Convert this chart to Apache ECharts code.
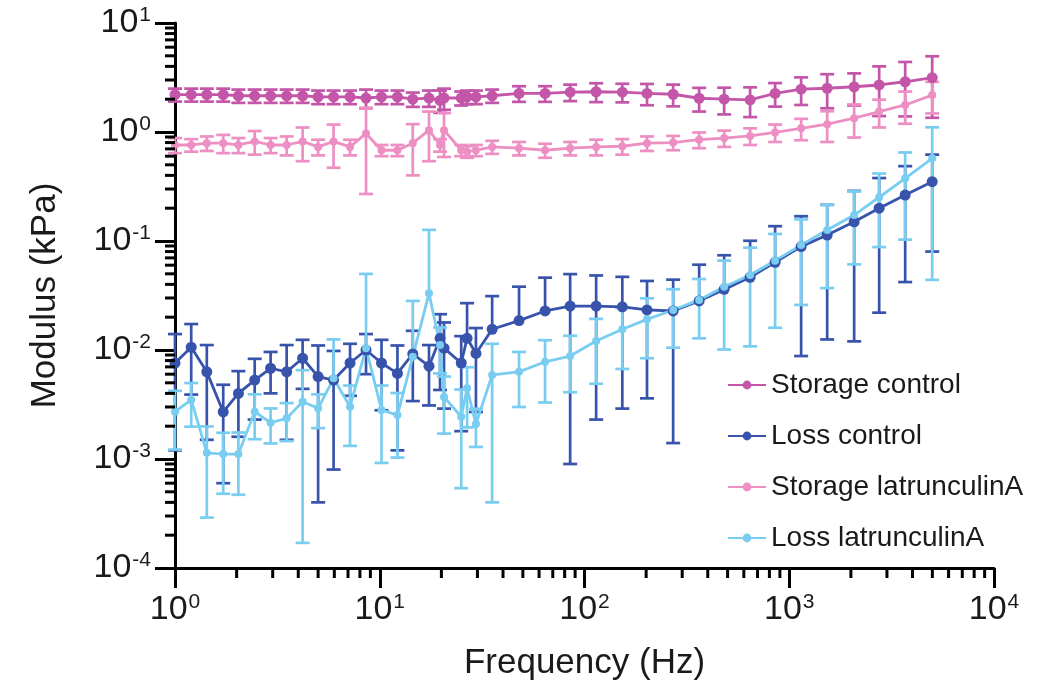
<!DOCTYPE html>
<html><head><meta charset="utf-8">
<script src="https://cdn.jsdelivr.net/npm/echarts@6/dist/echarts.min.js"></script>
<style>html,body{margin:0;padding:0;background:#fff}#c{width:1042px;height:688px}</style>
</head><body><div id="c"></div>
<script>
// ---- data (frequency in Hz, modulus in kPa, SD in kPa) ----
const freq = [1.00,1.20,1.43,1.72,2.04,2.45,2.93,3.51,4.20,5.00,5.95,7.16,8.57,10.2,12.2,14.5,17.4,19.7,20.6,25.0,26.7,29.5,35.4,
  47.9,64.2,85.1,114,153,202,271,363,481,644,853,1143,1532,2075,2749,3683,4991];

const storageControl = [2.20,2.20,2.20,2.20,2.15,2.15,2.15,2.15,2.15,2.10,2.10,2.10,2.05,2.10,2.10,2.00,2.05,1.95,2.05,2.05,2.10,2.10,2.15,
  2.26,2.26,2.32,2.34,2.32,2.26,2.22,2.04,2.00,1.97,2.26,2.47,2.52,2.60,2.70,2.89,3.15];
const storageControlSD = [0.30,0.30,0.30,0.30,0.30,0.30,0.30,0.30,0.30,0.30,0.30,0.30,0.40,0.30,0.30,0.30,0.35,0.45,0.45,0.30,0.30,0.30,0.30,
  0.37,0.37,0.40,0.46,0.45,0.50,0.50,0.50,0.55,0.60,0.55,0.70,0.87,0.85,1.30,1.50,1.80];

const lossControl = [0.0076,0.0106,0.0063,0.0027,0.0040,0.0053,0.0068,0.0063,0.0084,0.0057,0.0053,0.0076,0.0100,0.0076,0.0061,0.0092,0.0071,0.0128,0.0104,0.0076,0.0128,0.0093,0.0155,
  0.0186,0.0228,0.0253,0.0253,0.0249,0.0233,0.0228,0.0282,0.0360,0.0465,0.0638,0.0888,0.1135,0.150,0.200,0.264,0.350];
const lossControlSD = [0.0064,0.0067,0.0048,0.0021,0.0024,0.0030,0.0028,0.0048,0.0040,0.0053,0.0045,0.0038,0.0040,0.0048,0.0049,0.0058,0.0040,0.0085,0.0075,0.0058,0.0141,0.0066,0.0157,
  0.0195,0.0233,0.0244,0.0230,0.0220,0.0197,0.0214,0.0324,0.0380,0.0540,0.0730,0.0800,0.1010,0.1380,0.1780,0.2220,0.2700];

const storageLatA = [0.76,0.76,0.79,0.79,0.76,0.82,0.76,0.76,0.82,0.73,0.82,0.73,0.97,0.68,0.68,0.79,1.04,0.76,1.04,0.68,0.66,0.68,0.73,
  0.71,0.68,0.71,0.73,0.74,0.79,0.80,0.85,0.88,0.92,0.99,1.08,1.18,1.34,1.54,1.77,2.18];
const storageLatASD = [0.12,0.10,0.12,0.15,0.12,0.20,0.12,0.15,0.28,0.12,0.35,0.12,0.70,0.08,0.08,0.39,0.50,0.10,0.45,0.08,0.08,0.08,0.10,
  0.10,0.10,0.10,0.12,0.12,0.12,0.12,0.14,0.15,0.16,0.18,0.24,0.37,0.45,0.44,0.58,0.70];

const lossLatA = [0.00272,0.00348,0.00114,0.00111,0.00111,0.00272,0.00215,0.00236,0.00335,0.00292,0.00550,0.00302,0.0104,0.00282,0.00253,0.00869,0.0331,0.0111,0.00371,0.00244,0.00445,0.00209,0.00590,
  0.0063,0.0078,0.0088,0.0121,0.0155,0.0191,0.0233,0.0288,0.0381,0.0488,0.0660,0.0919,0.126,0.173,0.252,0.376,0.574];
const lossLatASD = [0.0015,0.0015,0.00085,0.00063,0.00064,0.0012,0.00076,0.0009,0.00318,0.0010,0.0070,0.0017,0.0395,0.0019,0.0015,0.0195,0.0934,0.0050,0.0020,0.0019,0.0025,0.0008,0.0055,
  0.0033,0.0045,0.0047,0.0072,0.0088,0.0107,0.0128,0.0160,0.0280,0.0380,0.0500,0.0660,0.0890,0.1120,0.1640,0.2730,0.5300];

const seriesNames = ['Storage control','Loss control','Storage latrunculinA','Loss latrunculinA'];
const xTickExponents = [0,1,2,3,4];
const yTickExponents = [-4,-3,-2,-1,0,1];

// ---- styling ----
const FONT = 'Liberation Sans, Arial, sans-serif';
const colors = ['#c356a9','#3753ab','#ee8fc4','#79cdf0'];
const symbolSizes = [11,11,8,8];

const means = [storageControl, lossControl, storageLatA, lossLatA];
const sds = [storageControlSD, lossControlSD, storageLatASD, lossLatASD];

// minor tick positions (2..9 within each decade)
const xMinor = [], yMinor = [];
for (let i = 0; i < xTickExponents.length - 1; i++)
  for (let k = 2; k <= 9; k++) xMinor.push(k * Math.pow(10, xTickExponents[i]));
for (let i = 0; i < yTickExponents.length - 1; i++)
  for (let k = 2; k <= 9; k++) yMinor.push(k * Math.pow(10, yTickExponents[i]));

const xMin = Math.pow(10, xTickExponents[0]), xMax = Math.pow(10, xTickExponents[xTickExponents.length-1]);
const yMin = Math.pow(10, yTickExponents[0]), yMax = Math.pow(10, yTickExponents[yTickExponents.length-1]);

function powLabel(v){
  const e = Math.round(Math.log10(v));
  return '{b|10}{s|' + e + '}';
}
const richLab = {
  b: {fontSize: 34, fontFamily: FONT, color: '#1a1a1a', lineHeight: 36},
  s: {fontSize: 21, fontFamily: FONT, color: '#1a1a1a', verticalAlign: 'top', lineHeight: 20, padding:[0,0,0,1]}
};

const series = [];
// error bars
means.forEach((m, si) => {
  series.push({
    type: 'custom', name: seriesNames[si] + ' SD', z: 2, silent: true, clip: false,
    data: freq.map((f, i) => [f, m[i], sds[si][i]]),
    renderItem: function(params, api){
      const x = api.value(0), mv = api.value(1), sd = api.value(2);
      const c = api.coord([x, mv]);
      const t = api.coord([x, Math.min(mv + sd, yMax)]);
      const style = {stroke: colors[si], lineWidth: 2.7};
      const ch = [
        {type:'line', shape:{x1:c[0], y1:c[1], x2:t[0], y2:t[1]}, style},
        {type:'line', shape:{x1:t[0]-7, y1:t[1], x2:t[0]+7, y2:t[1]}, style}
      ];
      if (mv - sd > 0) {
        const b = api.coord([x, Math.max(mv - sd, yMin)]);
        ch.push({type:'line', shape:{x1:c[0], y1:c[1], x2:b[0], y2:b[1]}, style});
        ch.push({type:'line', shape:{x1:b[0]-7, y1:b[1], x2:b[0]+7, y2:b[1]}, style});
      }
      return {type:'group', children: ch};
    }
  });
});
// lines with markers
means.forEach((m, si) => {
  series.push({
    type: 'line', name: seriesNames[si], z: 3,
    data: freq.map((f, i) => [f, m[i]]),
    symbol: 'circle', symbolSize: symbolSizes[si], showSymbol: true,
    itemStyle: {color: colors[si]},
    lineStyle: {color: colors[si], width: 2.8}
  });
});
// minor ticks
series.push({
  type:'custom', silent:true, clip:false, z: 5,
  data: xMinor.map(v => [v, yMin]),
  renderItem: function(p, api){
    const c = api.coord([api.value(0), api.value(1)]);
    return {type:'line', shape:{x1:c[0], y1:c[1], x2:c[0], y2:c[1]+10}, style:{stroke:'#000', lineWidth:3}};
  }
});
series.push({
  type:'custom', silent:true, clip:false, z: 5,
  data: yMinor.map(v => [xMin, v]),
  renderItem: function(p, api){
    const c = api.coord([api.value(0), api.value(1)]);
    return {type:'line', shape:{x1:c[0], y1:c[1], x2:c[0]-10, y2:c[1]}, style:{stroke:'#000', lineWidth:3}};
  }
});

const chart = echarts.init(document.getElementById('c'), null, {renderer:'canvas'});
chart.setOption({
  animation: false,
  backgroundColor: '#fff',
  grid: {left: 175, right: 48, top: 23, bottom: 120, containLabel: false, outerBoundsMode: 'none'},
  legend: {
    data: seriesNames, orient: 'vertical', left: 722, top: 366,
    itemWidth: 38, itemHeight: 11, itemGap: 23,
    textStyle: {fontSize: 28, fontFamily: FONT, color: '#1a1a1a', lineHeight: 28}
  },
  xAxis: {
    type: 'log', logBase: 10, min: xMin, max: xMax,
    name: 'Frequency (Hz)', nameLocation: 'middle', nameGap: 78,
    nameTextStyle: {fontSize: 35, fontFamily: FONT, color: '#1a1a1a'},
    axisLine: {show: true, onZero: false, lineStyle: {color: '#000', width: 3}},
    axisTick: {show: true, inside: false, length: 20, lineStyle: {color: '#000', width: 3}},
    axisLabel: {margin: 24, formatter: powLabel, rich: richLab},
    splitLine: {show: false}
  },
  yAxis: {
    type: 'log', logBase: 10, min: yMin, max: yMax,
    name: 'Modulus (kPa)', nameLocation: 'middle', nameGap: 112,
    nameTextStyle: {fontSize: 35, fontFamily: FONT, color: '#1a1a1a'},
    axisLine: {show: true, onZero: false, lineStyle: {color: '#000', width: 3}},
    axisTick: {show: true, inside: false, length: 20, lineStyle: {color: '#000', width: 3}},
    axisLabel: {margin: 24, formatter: powLabel, rich: richLab},
    splitLine: {show: false}
  },
  series: series
});
</script></body></html>
